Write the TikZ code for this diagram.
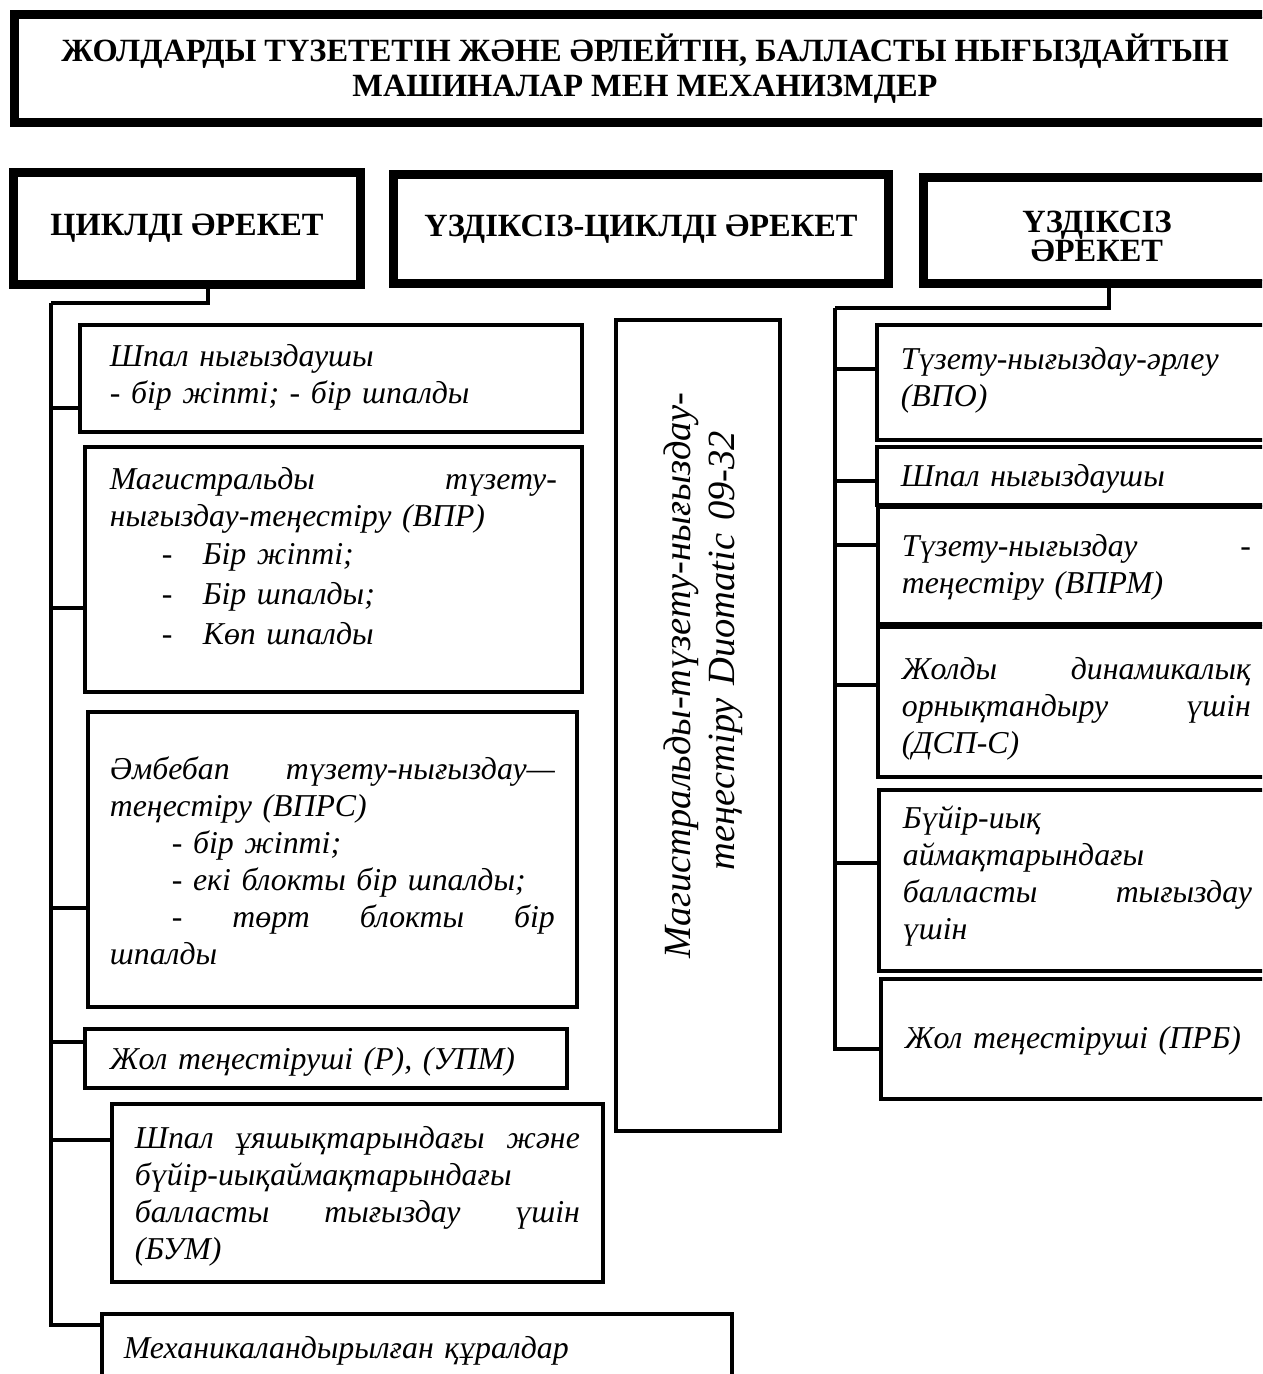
\documentclass[tikz,border=0pt]{standalone}
\usepackage{fontspec}
\setmainfont{LiberationSerif}[Extension=.ttf, UprightFont=*-Regular, BoldFont=*-Bold,
  ItalicFont=*-Italic, BoldItalicFont=*-BoldItalic]
\usetikzlibrary{positioning}
\newcommand\bodyfont{\fontsize{31.8}{37}\selectfont\itshape}
\newcommand\headfont{\fontsize{32.4}{35}\selectfont\bfseries}
\newcommand\bul[2]{\makebox[#2][l]{\hspace*{#1}-}}

\begin{document}
\begin{tikzpicture}[x=1pt, y=-1pt,
  head/.style={draw, line width=8.5pt, inner sep=0pt, align=center, font=\headfont},
  item/.style={draw, line width=3.8pt, anchor=north west, inner ysep=6pt,
               align=left, font=\bodyfont},
  ritem/.style={item, text width=349pt, inner xsep=24pt},
  vert/.style={draw, line width=4.5pt, inner sep=0pt, align=center,
               font=\fontsize{38.5}{44}\selectfont\itshape},
  conn/.style={line width=3.6pt}
]
  \useasboundingbox (0,0) rectangle (1262,1374);
  \clip (0,0) rectangle (1262,1374);
  \fill[white] (0,0) rectangle (1262,1374);

  % headings
  \node[head, minimum width=1262pt, minimum height=109pt] (title) at (645,68.5)
    {ЖОЛДАРДЫ ТҮЗЕТЕТІН ЖӘНЕ ӘРЛЕЙТІН, БАЛЛАСТЫ НЫҒЫЗДАЙТЫН\\МАШИНАЛАР МЕН МЕХАНИЗМДЕР};
  \node[head, minimum width=348pt, minimum height=113pt] (cyc) at (187,228.5) {ЦИКЛДІ ӘРЕКЕТ};
  \node[head, minimum width=496pt, minimum height=110pt] (semi) at (641,229) {ҮЗДІКСІЗ-ЦИКЛДІ ӘРЕКЕТ};
  \node[head, minimum width=348pt, minimum height=107pt, text width=320pt,
        text height=38pt, text depth=35pt,
        font=\fontsize{32.4}{28}\selectfont\bfseries] (cont) at (1097,230.5) {ҮЗДІКСІЗ\\ӘРЕКЕТ};
  \foreach \h in {title,cyc,semi,cont}
    \draw[line width=2pt] ([xshift=8pt,yshift=-8pt]\h.north west) rectangle ([xshift=-8pt,yshift=8pt]\h.south east);

  % cyclic group
  \node[item, text width=442pt, inner xsep=30pt, text height=36pt, text depth=59pt] (shA) at (78,323)
    {Шпал нығыздаушы\\- бір жіпті; - бір шпалды};
  \node[item, text width=447pt, inner xsep=25pt, text height=37pt, text depth=196pt] (vpr) at (83,445)
    {Магистральды\hfill түзету-\\нығыздау-теңестіру (ВПР)\\[1pt]
     \bul{52pt}{93pt}Бір жіпті;\\[3pt]
     \bul{52pt}{93pt}Бір шпалды;\\[3pt]
     \bul{52pt}{93pt}Көп шпалды};
  \node[item, text width=445pt, inner xsep=22pt, text height=62pt, text depth=221pt] (vprs) at (86,710)
    {Әмбебап\hfill түзету-нығыздау—\\теңестіру (ВПРС)\\
     \hspace*{62pt}- бір жіпті;\\
     \hspace*{62pt}- екі блокты бір шпалды;\\
     \hspace*{62pt}-\hfill төрт\hfill блокты\hfill бір\\
     шпалды};
  \node[item, text width=432pt, inner xsep=25pt, text height=35pt, text depth=12pt] (upm) at (83,1027)
    {Жол теңестіруші (Р), (УПМ)};
  \node[item, text width=445pt, inner xsep=23pt, text height=39pt, text depth=127pt] (bum) at (110,1102)
    {Шпал\hfill ұяшықтарындағы\hfill және\\бүйір-иықаймақтарындағы\\балласты\hfill тығыздау\hfill үшін\\(БУМ)};
  \node[item, text width=586pt, inner xsep=22pt, text height=39pt, text depth=49pt] (mech) at (100,1312)
    {Механикаландырылған құралдар};

  % continuous-cyclic
  \node[vert, rotate=90, minimum width=811pt, minimum height=164pt, text width=811pt,
        text height=40pt, text depth=55pt] (duo) at (698,725.5)
    {\hspace*{100pt}Магистральды-түзету-нығыздау-\\\hspace*{150pt}теңестіру Duomatic 09-32};

  % continuous group
  \node[ritem, text height=39pt, text depth=64pt] (vpo) at (875,323) {Түзету-нығыздау-әрлеу\\(ВПО)};
  \node[ritem, text height=34pt, text depth=12pt] (shR) at (875,445) {Шпал нығыздаушы};
  \node[ritem, text height=44pt, text depth=61pt] (vprm) at (876,505) {Түзету-нығыздау\hfill -\\теңестіру (ВПРМ)};
  \node[ritem, text height=47pt, text depth=91pt] (dsp) at (876,625)
    {Жолды\hfill динамикалық\\орнықтандыру\hfill үшін\\(ДСП-С)};
  \node[ritem, text height=33pt, text depth=136pt] (side) at (877,788)
    {Бүйір-иық\\аймақтарындағы\\балласты\hfill тығыздау\\үшін};
  \node[ritem, text height=64pt, text depth=44pt] (prb) at (879,977) {Жол теңестіруші (ПРБ)};

  % connectors
  \coordinate (ltop) at (51,303);
  \coordinate (rtop) at (835,308);
  \draw[conn] ([xshift=21pt]cyc.south) |- (ltop);
  \foreach \b/\d in {shA/85, vpr/163, vprs/198, upm/15, bum/38, mech/13}
    \draw[conn] ([yshift=-\d pt]\b.north west) -| (ltop);
  \draw[conn] ([xshift=12pt]cont.south) |- (rtop);
  \foreach \b/\d in {vpo/46, shR/36, vprm/40, dsp/60, side/75, prb/72}
    \draw[conn] ([yshift=-\d pt]\b.north west) -| (rtop);
\end{tikzpicture}
\end{document}
